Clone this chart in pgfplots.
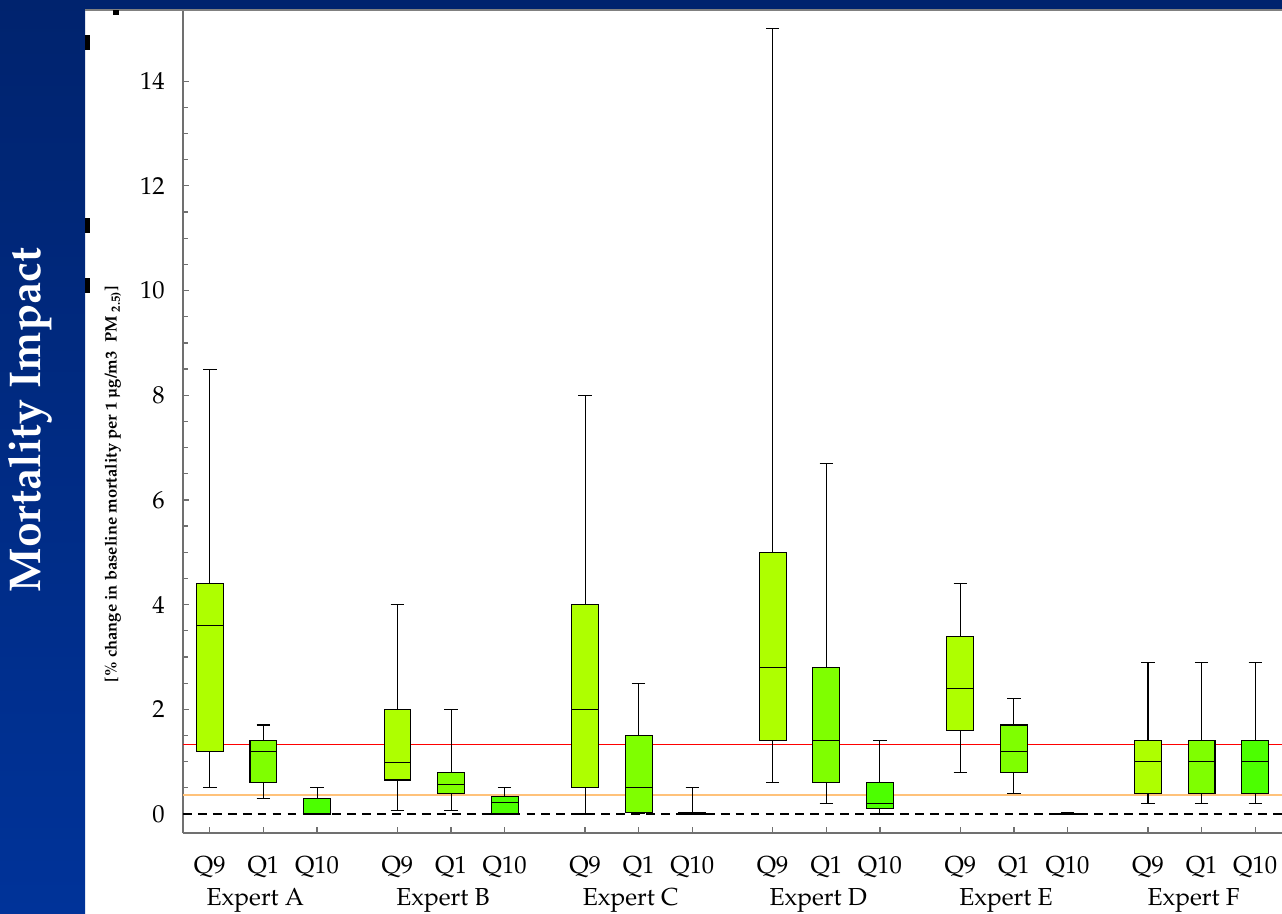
\documentclass[border=0pt]{standalone}
\usepackage[T1]{fontenc}
\usepackage{mathpazo}
\usepackage{textcomp}
\usepackage{pgfplots}
\pgfplotsset{compat=1.18}
\usepgfplotslibrary{statistics}

\definecolor{qnine}{HTML}{AEFF00}
\definecolor{qone}{HTML}{7FFF00}
\definecolor{qten}{HTML}{4CFF00}
\definecolor{slidetop}{HTML}{00236E}
\definecolor{slideblue}{HTML}{003399}
\definecolor{refred}{HTML}{FF0000}
\definecolor{reforange}{HTML}{FFC27A}
\definecolor{axisgray}{HTML}{707070}

% one prepared box: colour, position, lower whisker, lower quartile, median, upper quartile, upper whisker
\newcommand{\bx}[7]{%
  \addplot[draw=black, line width=0.6pt, fill=#1,
    boxplot prepared={draw direction=y, draw position=#2, lower whisker=#3, lower quartile=#4,
      median=#5, upper quartile=#6, upper whisker=#7,
      box extend=0.5, whisker extend=0.25}] coordinates {};}

\begin{document}
\begin{tikzpicture}
\useasboundingbox (0,0) rectangle (25.64,18.26);
\fill[white] (0,0) rectangle (25.64,18.26);
% slide side panel
\shade[top color=slidetop, bottom color=slideblue] (0,0) rectangle (1.70,18.26);
\node[rotate=90, white, font=\bfseries\fontsize{25.3}{30}\selectfont] at (0.60,9.86) {Mortality Impact};

\begin{axis}[
  at={(3.66cm,1.60cm)}, anchor=south west,
  scale only axis, width=21.98cm, height=16.46cm,
  xmin=-0.5, xmax=20.0, ymin=-0.363, ymax=15.36,
  axis x line=bottom, axis y line=left,
  axis line style={-, draw=axisgray, line width=0.9pt},
  xtick={0,1,2,3.5,4.5,5.5,7,8,9,10.5,11.5,12.5,14,15,16,17.5,18.5,19.5},
  xticklabels={Q9,Q1,Q10,Q9,Q1,Q10,Q9,Q1,Q10,Q9,Q1,Q10,Q9,Q1,Q10,Q9,Q1,Q10},
  ytick={0,2,...,14}, minor y tick num=3,
  tick align=inside,
  tick style={draw=axisgray, line width=0.7pt},
  major tick length=0.12cm, minor tick length=0.1cm,
  ticklabel style={font=\fontsize{14}{16}\selectfont},
  xticklabel style={anchor=base, yshift=-0.8cm},
  yticklabel style={xshift=-0.24cm},
  clip=false,
]
% reference levels
\addplot[black, line width=0.6pt, dash pattern=on 5pt off 3.5pt] coordinates {(-0.5,0) (20,0)};
\addplot[refred, line width=0.6pt] coordinates {(-0.5,1.32) (20,1.32)};
\addplot[reforange, line width=1.1pt] coordinates {(-0.5,0.37) (20,0.37)};

% Expert A
\bx{qnine}{0}{0.5}{1.2}{3.6}{4.4}{8.5}
\bx{qone}{1}{0.3}{0.6}{1.2}{1.4}{1.7}
\bx{qten}{2}{0}{0}{0}{0.3}{0.5}
% Expert B
\bx{qnine}{3.5}{0.07}{0.65}{0.98}{2.0}{4.0}
\bx{qone}{4.5}{0.07}{0.4}{0.57}{0.8}{2.0}
\bx{qten}{5.5}{0}{0}{0.22}{0.33}{0.5}
% Expert C
\bx{qnine}{7}{0}{0.5}{2.0}{4.0}{8.0}
\bx{qone}{8}{0.01}{0.03}{0.5}{1.5}{2.5}
\bx{qten}{9}{0}{0}{0.01}{0.03}{0.5}
% Expert D
\bx{qnine}{10.5}{0.6}{1.4}{2.8}{5.0}{15.0}
\bx{qone}{11.5}{0.2}{0.6}{1.4}{2.8}{6.7}
\bx{qten}{12.5}{0}{0.1}{0.2}{0.6}{1.4}
% Expert E
\bx{qnine}{14}{0.8}{1.6}{2.4}{3.4}{4.4}
\bx{qone}{15}{0.4}{0.8}{1.2}{1.7}{2.2}
\bx{qten}{16}{0}{0}{0.005}{0.01}{0.03}
% Expert F
\bx{qnine}{17.5}{0.2}{0.4}{1.0}{1.4}{2.9}
\bx{qone}{18.5}{0.2}{0.4}{1.0}{1.4}{2.9}
\bx{qten}{19.5}{0.2}{0.4}{1.0}{1.4}{2.9}

% group names
\begin{scope}[every node/.style={anchor=base, yshift=-1.44cm, font=\fontsize{14}{16}\selectfont}]
\node at (axis cs:0.85,-0.363) {Expert A};
\node at (axis cs:4.35,-0.363) {Expert B};
\node at (axis cs:7.85,-0.363) {Expert C};
\node at (axis cs:11.35,-0.363) {Expert D};
\node at (axis cs:14.85,-0.363) {Expert E};
\node at (axis cs:18.35,-0.363) {Expert F};
\end{scope}
\end{axis}

\node[rotate=90, font=\bfseries\fontsize{9.4}{10}\selectfont] at (2.26,8.58)
  {[\% change in baseline mortality per 1 \textmu g/m3\ \ PM\ \textsubscript{2.5)}]};

% slide top band
\fill[slidetop] (0,18.06) rectangle (25.64,18.26);
\draw[gray, line width=0.6pt] (1.70,18.06) -- (25.64,18.06);
% small slide markers
\fill[black] (1.70,17.26) rectangle (1.80,17.56);
\fill[black] (1.70,13.60) rectangle (1.80,13.90);
\fill[black] (1.70,12.40) rectangle (1.80,12.70);
\fill[black] (2.26,17.96) rectangle (2.38,18.06);
\end{tikzpicture}
\end{document}
